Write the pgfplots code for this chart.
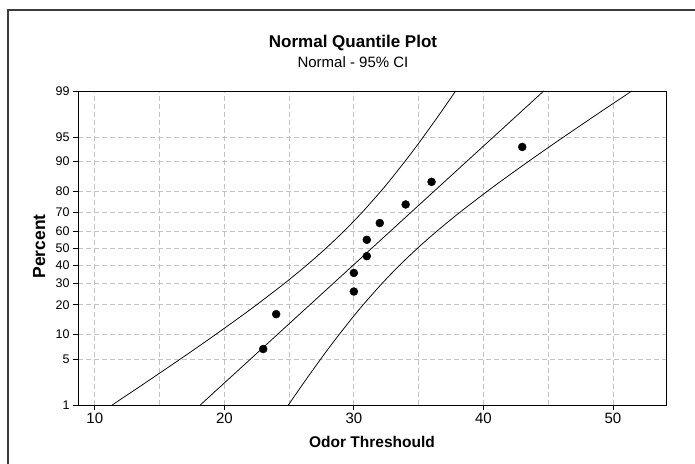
\documentclass[border=0pt]{standalone}
\usepackage{fontspec}
\setmainfont{Liberation Sans}
\usepackage{pgfplots}
\pgfplotsset{compat=1.18}
\definecolor{gridgray}{RGB}{195,195,195}
\definecolor{framegray}{RGB}{60,60,60}

% percent scale drawn as normal quantiles (z)
\begin{document}
\begin{tikzpicture}
\useasboundingbox (0,0) rectangle (695bp,464bp);
\draw[line width=1.2bp, draw=framegray] (8bp,0) -- (8bp,454bp) -- (695bp,454bp);
\node[font=\fontsize{17bp}{20bp}\selectfont\bfseries, anchor=base] at (353bp,416bp) {Normal Quantile Plot};
\node[font=\fontsize{15bp}{18bp}\selectfont, anchor=base] at (353bp,396bp) {Normal - 95\% CI};
\begin{axis}[
  at={(78bp,59bp)}, anchor=south west,
  scale only axis,
  width=588bp, height=314bp,
  xmin=8.7, xmax=54.1,
  ymin=-2.3263, ymax=2.3263,
  xtick={10,20,30,40,50},
  xticklabels={10,20,30,40,50},
  minor xtick={15,25,35,45},
  ytick={-2.3263,-1.6449,-1.2816,-0.8416,-0.5244,-0.2533,0,0.2533,0.5244,0.8416,1.2816,1.6449,2.3263},
  yticklabels={1,5,10,20,30,40,50,60,70,80,90,95,99},
  tick align=outside, tick pos=left,
  major tick length=5bp, minor tick length=0pt,
  grid=major, xminorgrids=true,
  major grid style={draw=gridgray, dash pattern=on 5bp off 3bp, line width=0.8bp},
  minor grid style={draw=gridgray, dash pattern=on 5bp off 3bp, line width=0.8bp},
  axis line style={black, line width=0.9bp},
  tick style={black, line width=0.8bp},
  xticklabel style={font=\fontsize{15bp}{17bp}\selectfont},
  yticklabel style={font=\fontsize{12.5bp}{14bp}\selectfont},
  xlabel={Odor Threshould},
  ylabel={Percent},
  xlabel style={font=\fontsize{15.5bp}{18bp}\selectfont\bfseries, at={(axis description cs:0.5,-0.1338)}, anchor=base},
  ylabel style={font=\fontsize{17.5bp}{20bp}\selectfont\bfseries, at={(axis description cs:-0.0561,0.505)}, anchor=base},
]
% upper-percent band (left curve)
\addplot[black, line width=0.75bp, smooth] coordinates {
  (11.339,-2.3263) (13.881,-2.0) (16.605,-1.6449) (17.70,-1.5) (19.327,-1.2816)
  (21.373,-1.0) (22.492,-0.8416) (24.643,-0.5244) (26.367,-0.2533) (27.867,0)
  (29.255,0.2533) (30.621,0.5244) (32.086,0.8416) (32.773,1.0) (33.937,1.2816)
  (34.80,1.5) (35.357,1.6449) (36.681,2.0) (37.859,2.3263)
};
% fitted line
\addplot[black, line width=0.75bp] coordinates {(18.14,-2.3263) (44.66,2.3263)};
% lower-percent band (right curve)
\addplot[black, line width=0.75bp, smooth] coordinates {
  (24.941,-2.3263) (26.119,-2.0) (27.443,-1.6449) (28.00,-1.5) (28.863,-1.2816)
  (30.027,-1.0) (30.714,-0.8416) (32.179,-0.5244) (33.545,-0.2533) (34.933,0)
  (36.433,0.2533) (38.157,0.5244) (40.308,0.8416) (41.427,1.0) (43.473,1.2816)
  (45.10,1.5) (46.195,1.6449) (48.919,2.0) (51.461,2.3263)
};
% observations
\addplot[only marks, mark=*, mark size=4bp, black] coordinates {
  (23,-1.497) (24,-0.98) (30,-0.645) (30,-0.37) (31,-0.121)
  (31,0.121) (32,0.37) (34,0.645) (36,0.98) (43,1.497)
};
\end{axis}
\end{tikzpicture}
\end{document}
